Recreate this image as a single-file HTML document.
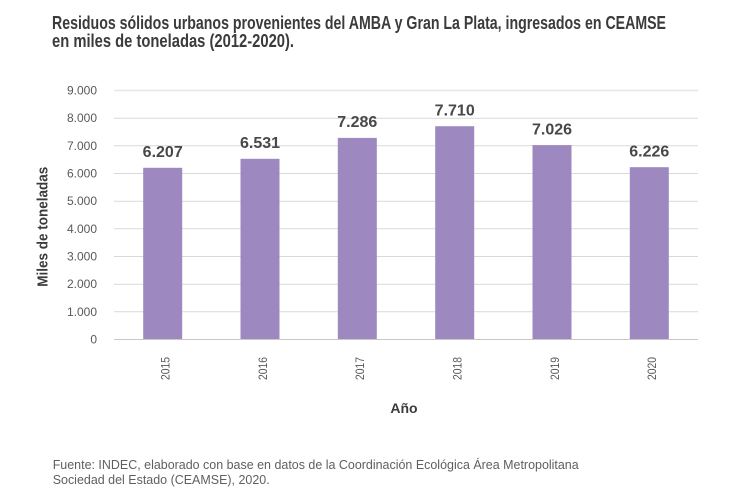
<!DOCTYPE html>
<html>
<head>
<meta charset="utf-8">
<style>
  html,body{margin:0;padding:0;background:#fff;}
  svg{display:block;}
  text{font-family:"Liberation Sans", Arial, sans-serif;}
</style>
</head>
<body>
<svg width="733" height="495" viewBox="0 0 733 495" xmlns="http://www.w3.org/2000/svg">
  <rect width="733" height="495" fill="#ffffff"/>
  <!-- Title -->
  <text x="52" y="29" font-size="18" font-weight="bold" fill="#3b3b3b" textLength="614" lengthAdjust="spacingAndGlyphs">Residuos sólidos urbanos provenientes del AMBA y Gran La Plata, ingresados en CEAMSE</text>
  <text x="52" y="47" font-size="18" font-weight="bold" fill="#3b3b3b" textLength="242" lengthAdjust="spacingAndGlyphs">en miles de toneladas (2012-2020).</text>

  <!-- Gridlines -->
  <g stroke="#d9d9d9" stroke-width="1">
    <line x1="114" y1="90.5" x2="698" y2="90.5" stroke="#e6e6e6" stroke-width="1.5"/>
    <line x1="114" y1="118.2" x2="698" y2="118.2"/>
    <line x1="114" y1="145.8" x2="698" y2="145.8"/>
    <line x1="114" y1="173.5" x2="698" y2="173.5"/>
    <line x1="114" y1="201.2" x2="698" y2="201.2"/>
    <line x1="114" y1="228.8" x2="698" y2="228.8"/>
    <line x1="114" y1="256.5" x2="698" y2="256.5"/>
    <line x1="114" y1="284.2" x2="698" y2="284.2"/>
    <line x1="114" y1="311.8" x2="698" y2="311.8"/>
  </g>

  <!-- Y tick labels -->
  <g font-size="12" fill="#595959" text-anchor="end">
    <text x="97" y="94.5">9.000</text>
    <text x="97" y="122.2">8.000</text>
    <text x="97" y="149.8">7.000</text>
    <text x="97" y="177.5">6.000</text>
    <text x="97" y="205.2">5.000</text>
    <text x="97" y="232.8">4.000</text>
    <text x="97" y="260.5">3.000</text>
    <text x="97" y="288.2">2.000</text>
    <text x="97" y="315.8">1.000</text>
    <text x="97" y="343.5">0</text>
  </g>

  <!-- Bars -->
  <g fill="#9d89c0">
    <rect x="143.2" y="167.8" width="39" height="171.7"/>
    <rect x="240.5" y="158.8" width="39" height="180.7"/>
    <rect x="337.8" y="137.9" width="39" height="201.6"/>
    <rect x="435.2" y="126.2" width="39" height="213.3"/>
    <rect x="532.5" y="145.1" width="39" height="194.4"/>
    <rect x="629.8" y="167.2" width="39" height="172.3"/>
  </g>

  <!-- Zero line -->
  <line x1="114" y1="339.5" x2="698" y2="339.5" stroke="#c8c8c8" stroke-width="1"/>

  <!-- Value labels -->
  <g font-size="16" font-weight="bold" fill="#484848" text-anchor="middle">
    <text x="162.7" y="157">6.207</text>
    <text x="260" y="148">6.531</text>
    <text x="357.3" y="127.2">7.286</text>
    <text x="454.7" y="115.5">7.710</text>
    <text x="552" y="134.4">7.026</text>
    <text x="649.3" y="156.5">6.226</text>
  </g>

  <!-- X tick labels (rotated) -->
  <g font-size="11.5" fill="#595959" text-anchor="middle">
    <text transform="translate(169.5,368.5) rotate(-90)" textLength="23" lengthAdjust="spacingAndGlyphs">2015</text>
    <text transform="translate(266.8,368.5) rotate(-90)" textLength="23" lengthAdjust="spacingAndGlyphs">2016</text>
    <text transform="translate(364.1,368.5) rotate(-90)" textLength="23" lengthAdjust="spacingAndGlyphs">2017</text>
    <text transform="translate(461.5,368.5) rotate(-90)" textLength="23" lengthAdjust="spacingAndGlyphs">2018</text>
    <text transform="translate(558.8,368.5) rotate(-90)" textLength="23" lengthAdjust="spacingAndGlyphs">2019</text>
    <text transform="translate(656.1,368.5) rotate(-90)" textLength="23" lengthAdjust="spacingAndGlyphs">2020</text>
  </g>

  <!-- Axis titles -->
  <text transform="translate(47.5,226.7) rotate(-90)" font-size="14.5" font-weight="bold" fill="#3b3b3b" text-anchor="middle" textLength="120" lengthAdjust="spacingAndGlyphs">Miles de toneladas</text>
  <text x="404" y="413" font-size="14" font-weight="bold" fill="#3b3b3b" text-anchor="middle">Año</text>

  <!-- Footer -->
  <text x="52.7" y="469" font-size="13" fill="#5f5f5f" textLength="526" lengthAdjust="spacingAndGlyphs">Fuente: INDEC, elaborado con base en datos de la Coordinación Ecológica Área Metropolitana</text>
  <text x="52.7" y="484" font-size="13" fill="#5f5f5f" textLength="217" lengthAdjust="spacingAndGlyphs">Sociedad del Estado (CEAMSE), 2020.</text>
</svg>
</body>
</html>
